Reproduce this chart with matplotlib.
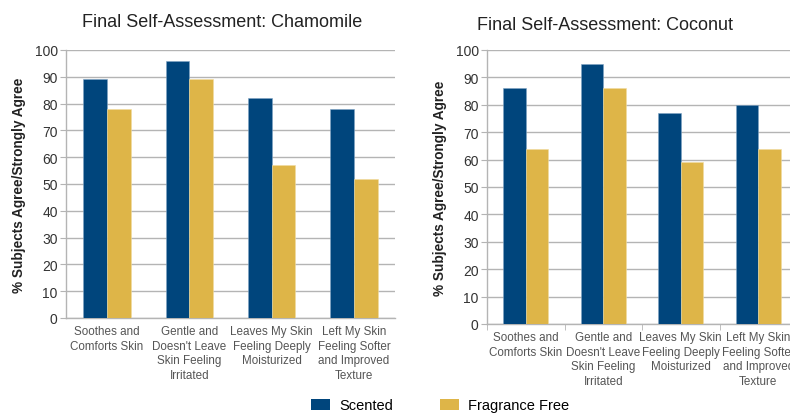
import matplotlib.pyplot as plt
import numpy as np
from matplotlib.patches import Patch

categories = [
    "Soothes and\nComforts Skin",
    "Gentle and\nDoesn't Leave\nSkin Feeling\nIrritated",
    "Leaves My Skin\nFeeling Deeply\nMoisturized",
    "Left My Skin\nFeeling Softer\nand Improved\nTexture",
]
chamomile_scented = [89, 96, 82, 78]
chamomile_free = [78, 89, 57, 52]
coconut_scented = [86, 95, 77, 80]
coconut_free = [64, 86, 59, 64]
series_names = ["Scented", "Fragrance Free"]
y_ticks = list(range(0, 101, 10))

NAVY = "#00457c"
GOLD = "#deb548"
GRID = "#b4b4b4"

plt.rcParams["font.family"] = ["Liberation Sans", "DejaVu Sans"]

fig = plt.figure(figsize=(7.9, 4.14), dpi=100)
W, H = 790, 414


def px_axes(left, right, top, bottom):
    return fig.add_axes([left / W, (H - bottom) / H, (right - left) / W, (bottom - top) / H])


def draw_panel(ax, scented, free, title, bar_w, ticks_x, title_pad):
    x = np.arange(len(categories))
    ax.bar(x - bar_w / 2, scented, bar_w, color=NAVY, edgecolor="#7fa3c4", linewidth=0.4, zorder=3)
    ax.bar(x + bar_w / 2, free, bar_w, color=GOLD, edgecolor="#f0dca0", linewidth=0.4, zorder=3)
    ax.set_xlim(-0.5, len(categories) - 0.5)
    ax.set_ylim(0, 100)
    ax.set_yticks(y_ticks)
    ax.yaxis.grid(True, color=GRID, linewidth=1.0, zorder=0)
    for side in ("top", "right"):
        ax.spines[side].set_visible(False)
    for side in ("left", "bottom"):
        ax.spines[side].set_color(GRID)
        ax.spines[side].set_linewidth(1.0)
    ax.tick_params(axis="y", length=4, color=GRID, labelsize=10, labelcolor="#333333", pad=2)
    ax.set_xticks(x)
    ax.set_xticklabels(categories, fontsize=8.4, color="#555555", linespacing=1.3)
    ax.tick_params(axis="x", length=0, pad=5)
    if ticks_x:
        ax.set_xticks(np.arange(len(categories) + 1) - 0.5, minor=True)
        ax.tick_params(axis="x", which="minor", length=4, color=GRID)
    ax.set_ylabel("% Subjects Agree/Strongly Agree", fontsize=9.8, fontweight="bold",
                  color="#222222", labelpad=6)
    ax.set_title(title, fontsize=13, color="#222222", pad=title_pad)


ax1 = px_axes(66, 395, 51, 319)
draw_panel(ax1, chamomile_scented, chamomile_free, "Final Self-Assessment: Chamomile", 0.29, False, 17)
ax1.title.set_x((222 - 66) / 329)

ax2 = px_axes(487, 797, 51, 325)
draw_panel(ax2, coconut_scented, coconut_free, "Final Self-Assessment: Coconut", 0.29, True, 15)
ax2.title.set_x((605 - 487) / 310)

handles = [Patch(facecolor=NAVY, edgecolor="none"), Patch(facecolor=GOLD, edgecolor="none")]
fig.legend(handles, series_names, loc="lower center", bbox_to_anchor=(0.557, -0.03), ncol=2,
           frameon=False, fontsize=10.5, handlelength=1.35, handleheight=0.75,
           columnspacing=3.2, handletextpad=0.6)

fig.savefig("out.png", dpi=100)
